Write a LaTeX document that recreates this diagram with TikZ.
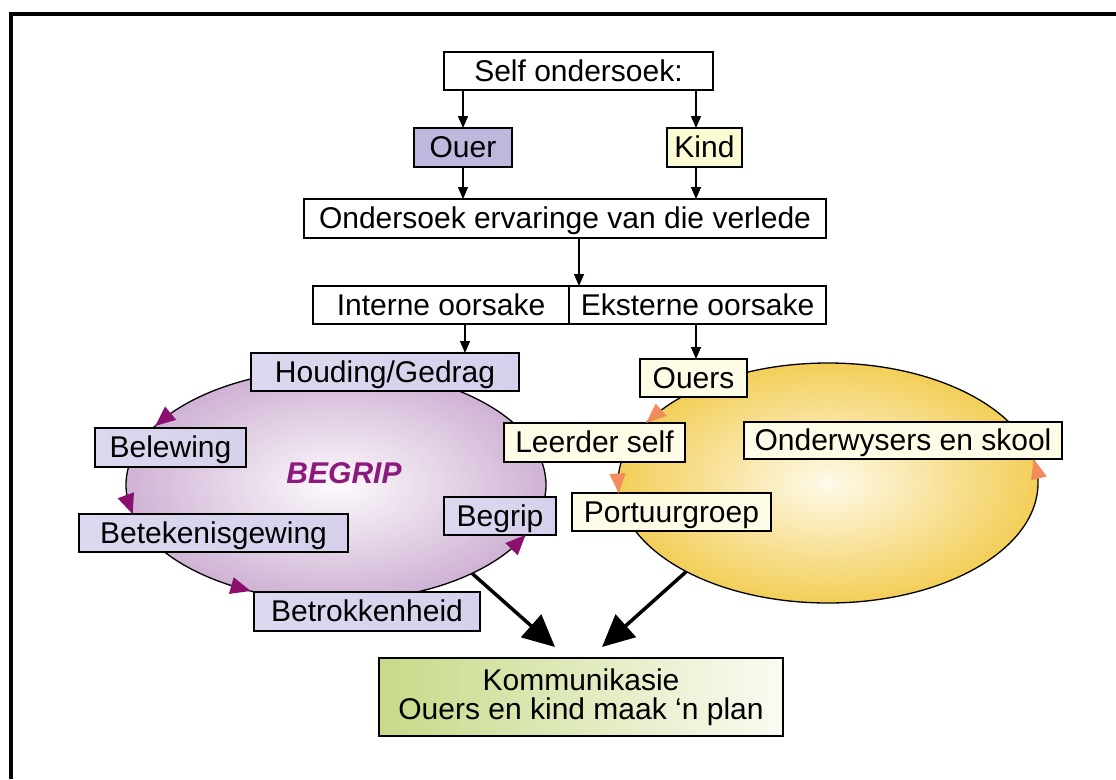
\documentclass[tikz,border=0pt]{standalone}
\usepackage{fontspec}
\setmainfont{Liberation Sans}
\usetikzlibrary{shapes.geometric,arrows.meta,calc}
\definecolor{ouerfill}{HTML}{BFB8DE}
\definecolor{kindfill}{HTML}{FDFBD4}
\definecolor{yfill}{HTML}{FEFCE6}
\definecolor{pl}{HTML}{DDD8EF}
\definecolor{pm}{HTML}{F7F6FC}
\definecolor{pr}{HTML}{D6D0EC}
\definecolor{pin}{HTML}{FCFAFC}
\definecolor{pout}{HTML}{CFB2D4}
\definecolor{yin}{HTML}{FEFAEA}
\definecolor{yout}{HTML}{F3CE58}
\definecolor{parr}{HTML}{8A0F6E}
\definecolor{oarr}{HTML}{F28C5C}
\definecolor{begripcol}{HTML}{8C1A7C}
\definecolor{kl}{HTML}{C6DA88}
\definecolor{kr}{HTML}{FBFBF2}
\begin{document}
\begin{tikzpicture}[x=1pt,y=1pt,
  nbox/.style={draw=black, line width=1.3pt, inner sep=0pt, outer sep=0pt,
    font=\fontsize{30}{32}\selectfont, text=black, text height=21.5pt, text depth=1.5pt},
  pbox/.style={nbox, left color=pl, middle color=pm, right color=pr},
  ybox/.style={nbox, fill=yfill},
  wbox/.style={nbox, fill=white},
  arr/.style={line width=1.3pt, -{Triangle[length=12pt,width=10pt]}},
  bigarr/.style={line width=3.5pt, -{Triangle[length=32pt,width=30pt]}},
  ell/.style={ellipse, draw=black, line width=1.3pt, inner sep=0pt, outer sep=0pt},
  parrow/.style={line width=1.3pt, -{Triangle[length=20pt,width=17pt,color=parr]}},
  oarrow/.style={line width=1.3pt, -{Triangle[length=20pt,width=16pt,color=oarr]}}]
\useasboundingbox (0,0) rectangle (1116,-779);
\fill[white] (0,0) rectangle (1116,-779);
\draw[line width=4pt, line join=miter] (11,-779) -- (11,-14) -- (1116,-14);

% ellipses
\node[ell, minimum width=420pt, minimum height=232pt, inner color=pin, outer color=pout] (pell) at (336,-485) {};
\node[ell, minimum width=420pt, minimum height=240pt, inner color=yin, outer color=yout] (yell) at (828,-483) {};

% top part
\node[wbox, minimum width=269pt, minimum height=38pt] (self) at (578.5,-71) {Self ondersoek:};
\node[nbox, fill=ouerfill, minimum width=98pt, minimum height=39pt] (ouer) at (463,-147.5) {Ouer};
\node[nbox, fill=kindfill, minimum width=75pt, minimum height=39pt] (kind) at (704.5,-147.5) {Kind};
\node[wbox, minimum width=522pt, minimum height=39pt] (onder) at (565,-218.5) {Ondersoek ervaringe van die verlede};
\node[wbox, minimum width=256pt, minimum height=38pt] (interne) at (441,-305) {Interne oorsake};
\node[wbox, minimum width=257pt, minimum height=38pt] (eksterne) at (697.5,-305) {Eksterne oorsake};

% purple boxes
\node[pbox, minimum width=268pt, minimum height=38pt] (houding) at (385,-372) {Houding/Gedrag};
\node[pbox, minimum width=151pt, minimum height=39pt] (belewing) at (170.5,-447.5) {Belewing};
\node[pbox, minimum width=269pt, minimum height=38pt] (betek) at (213.5,-533) {Betekenisgewing};
\node[pbox, minimum width=226pt, minimum height=39pt] (betrok) at (367,-611.5) {Betrokkenheid};
\node[pbox, minimum width=112pt, minimum height=38pt] (begrip) at (500,-516) {Begrip};
\node[font=\fontsize{30}{32}\selectfont\bfseries\itshape, text=begripcol] (begriplbl) at (344,-473) {BEGRIP};

% yellow boxes
\node[ybox, minimum width=107pt, minimum height=38pt] (ouers) at (693.5,-378) {Ouers};
\node[ybox, minimum width=181pt, minimum height=39pt] (leerder) at (594.5,-442.5) {Leerder self};
\node[ybox, minimum width=318pt, minimum height=37pt] (onderw) at (903,-440.5) {Onderwysers en skool};
\node[ybox, minimum width=199pt, minimum height=38pt] (portuur) at (671.5,-512) {Portuurgroep};

% result box
\node[draw=black, line width=1.3pt, inner sep=0pt, outer sep=0pt, left color=kl, right color=kr,
  minimum width=404pt, minimum height=78pt, align=center, font=\fontsize{30}{29}\selectfont] (komm) at (581,-697)
  {Kommunikasie\\Ouers en kind maak ‘n plan};

% thin arrows
\coordinate (kx) at ([xshift=-8.5pt]kind.north);
\coordinate (oa) at ([xshift=14pt]onder.south);
\coordinate (ia) at ([xshift=24pt]interne.south);
\draw[arr] (self.south -| ouer.north) -- (ouer.north);
\draw[arr] (self.south -| kx) -- (kx);
\draw[arr] (ouer.south) -- (ouer.south |- onder.north);
\draw[arr] (kind.south -| kx) -- (onder.north -| kx);
\draw[arr] (oa) -- (oa |- eksterne.north);
\draw[arr] (ia) -- (ia |- houding.north);
\draw[arr] (kx |- eksterne.south) -- (kx |- ouers.north);

% arrowheads on the purple cycle
\foreach \t in {149.4,194.5,246,334.5}
  \draw[parrow] ($(pell.center)+({210*cos(\t-6)},{116*sin(\t-6)})$) -- ($(pell.center)+({210*cos(\t)},{116*sin(\t)})$);
% arrowheads on the yellow cycle
\foreach \t in {150,185,11.5}
  \draw[oarrow] ($(yell.center)+({210*cos(\t-6)},{120*sin(\t-6)})$) -- ($(yell.center)+({210*cos(\t)},{120*sin(\t)})$);

% thick arrows
\coordinate (kla) at (555,-647);
\coordinate (kra) at (602,-647);
\draw[bigarr] (pell.-33) -- (kla);
\draw[bigarr] (yell.212) -- (kra);
\end{tikzpicture}
\end{document}
